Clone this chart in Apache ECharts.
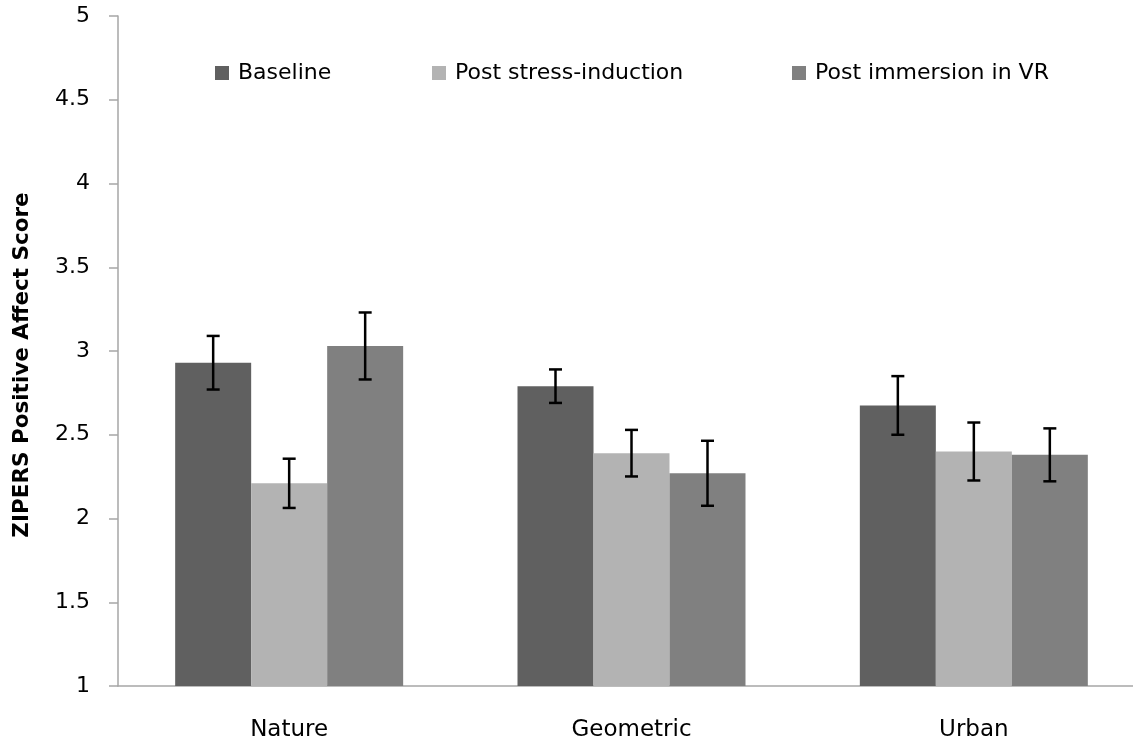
<!DOCTYPE html>
<html>
<head>
<meta charset="utf-8">
<script src="https://cdn.jsdelivr.net/npm/echarts@6/dist/echarts.min.js"></script>
<style>
html,body{margin:0;padding:0;background:#fff;overflow:hidden;width:1133px;height:742px;}
#chart{width:1150px;height:742px;}
</style>
</head>
<body>
<div id="chart"></div>
<script>
const categories = ['Nature', 'Geometric', 'Urban'];
const seriesNames = ['Baseline', 'Post stress-induction', 'Post immersion in VR'];
const baseline = [2.93, 2.79, 2.675];
const postStress = [2.21, 2.39, 2.40];
const postVR = [3.03, 2.27, 2.38];
const baselineErr = [0.16, 0.10, 0.175];
const postStressErr = [0.147, 0.139, 0.173];
const postVRErr = [0.20, 0.194, 0.158];
const yTicks = [1, 1.5, 2, 2.5, 3, 3.5, 4, 4.5, 5];
const yTitle = 'ZIPERS Positive Affect Score';

const colors = ['#606060', '#b3b3b3', '#808080'];
const values = [baseline, postStress, postVR];
const errs = [baselineErr, postStressErr, postVRErr];
const catGap = 0.334;
const FONT = 'DejaVu Sans';

const errData = [];
values.forEach((vals, s) => {
  vals.forEach((v, c) => {
    errData.push([c, v - errs[s][c], v + errs[s][c], s]);
  });
});

const chart = echarts.init(document.getElementById('chart'), null, {renderer: 'canvas', width: 1150, height: 742});

const barSeries = seriesNames.map((name, i) => ({
  name: name,
  type: 'bar',
  data: values[i],
  barGap: '0%',
  barCategoryGap: (catGap * 100) + '%',
  itemStyle: {color: colors[i]},
  emphasis: {disabled: true}
}));

const errSeries = {
  type: 'custom',
  data: errData,
  encode: {x: 0, y: [1, 2]},
  z: 10,
  silent: true,
  clip: false,
  renderItem: function (params, api) {
    const c = api.value(0);
    const s = api.value(3);
    const catW = api.size([1, 0])[0];
    const bw = catW * (1 - catGap) / 3;
    const lo = api.coord([c, api.value(1)]);
    const hi = api.coord([c, api.value(2)]);
    const x = lo[0] + (s - 1) * bw;
    const cap = 6.5;
    const st = {stroke: '#000', lineWidth: 2.5};
    return {
      type: 'group',
      children: [
        {type: 'line', shape: {x1: x, y1: lo[1], x2: x, y2: hi[1]}, style: st},
        {type: 'line', shape: {x1: x - cap, y1: lo[1], x2: x + cap, y2: lo[1]}, style: st},
        {type: 'line', shape: {x1: x - cap, y1: hi[1], x2: x + cap, y2: hi[1]}, style: st}
      ]
    };
  }
};

const legendLefts = [210, 427, 787];
const legends = seriesNames.map((n, i) => ({
  data: [n],
  left: legendLefts[i],
  top: 57,
  itemWidth: 14,
  itemHeight: 14,
  itemGap: 0,
  icon: 'rect',
  selectedMode: false,
  textStyle: {fontFamily: FONT, fontSize: 22, color: '#000', padding: [0, 0, 0, 4]}
}));

chart.setOption({
  animation: false,
  backgroundColor: '#fff',
  color: colors,
  legend: legends,
  grid: {left: 118, right: 5, top: 16, bottom: 56, containLabel: false},
  graphic: [{
    type: 'text',
    x: 22,
    y: 365,
    rotation: Math.PI / 2,
    style: {text: yTitle, fontFamily: FONT, fontSize: 21.5, fontWeight: 'bold', fill: '#000',
      align: 'center', verticalAlign: 'middle'}
  }],
  xAxis: {
    type: 'category',
    data: categories,
    axisLine: {lineStyle: {color: '#a6a6a6', width: 1.5}},
    axisTick: {show: false},
    axisLabel: {fontFamily: FONT, fontSize: 23, color: '#000', margin: 33}
  },
  yAxis: {
    type: 'value',
    min: yTicks[0],
    max: yTicks[yTicks.length - 1],
    interval: 0.5,
    axisLine: {show: true, lineStyle: {color: '#a6a6a6', width: 1.5}},
    axisTick: {show: true, length: 9, lineStyle: {color: '#a6a6a6', width: 1.5}},
    splitLine: {show: false},
    axisLabel: {fontFamily: FONT, fontSize: 22, color: '#000', margin: 28,
      formatter: v => String(v)}
  },
  series: barSeries.concat([errSeries])
});
</script>
</body>
</html>
